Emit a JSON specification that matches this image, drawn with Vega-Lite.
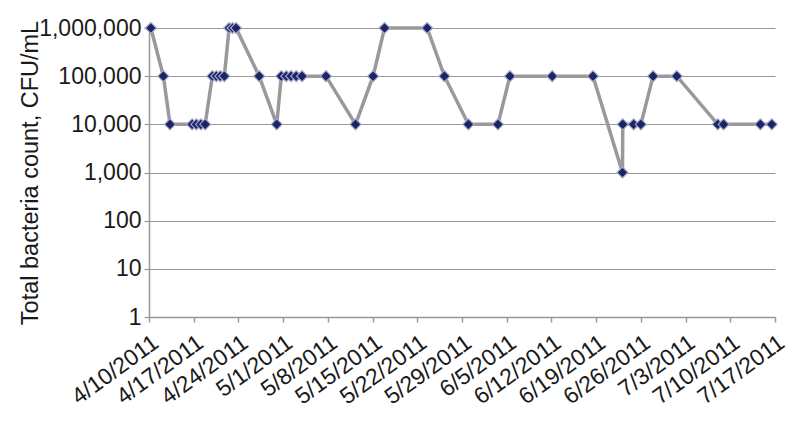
{
  "$schema": "https://vega.github.io/schema/vega-lite/v6.json",
  "width": 626,
  "height": 289,
  "autosize": "none",
  "padding": {"left": 149, "top": 28, "right": 25, "bottom": 107},
  "background": "white",
  "config": {
    "view": {"stroke": null},
    "font": "Liberation Sans",
    "axis": {"labelFont": "Liberation Sans", "titleFont": "Liberation Sans"}
  },
  "data": {
    "values": [
      {"date": "2011-04-10T07:00", "cfu": 1000000},
      {"date": "2011-04-12T06:00", "cfu": 100000},
      {"date": "2011-04-13T07:00", "cfu": 10000},
      {"date": "2011-04-16T18:00", "cfu": 10000},
      {"date": "2011-04-17T10:00", "cfu": 10000},
      {"date": "2011-04-18T03:00", "cfu": 10000},
      {"date": "2011-04-18T19:00", "cfu": 10000},
      {"date": "2011-04-19T22:00", "cfu": 100000},
      {"date": "2011-04-20T13:00", "cfu": 100000},
      {"date": "2011-04-21T04:00", "cfu": 100000},
      {"date": "2011-04-21T19:00", "cfu": 100000},
      {"date": "2011-04-22T13:00", "cfu": 1000000},
      {"date": "2011-04-23T02:00", "cfu": 1000000},
      {"date": "2011-04-23T15:00", "cfu": 1000000},
      {"date": "2011-04-27T06:00", "cfu": 100000},
      {"date": "2011-04-30T00:00", "cfu": 10000},
      {"date": "2011-04-30T17:00", "cfu": 100000},
      {"date": "2011-05-01T12:00", "cfu": 100000},
      {"date": "2011-05-02T06:00", "cfu": 100000},
      {"date": "2011-05-03T01:00", "cfu": 100000},
      {"date": "2011-05-03T23:00", "cfu": 100000},
      {"date": "2011-05-07T17:00", "cfu": 100000},
      {"date": "2011-05-12T08:00", "cfu": 10000},
      {"date": "2011-05-15T02:00", "cfu": 100000},
      {"date": "2011-05-16T21:00", "cfu": 1000000},
      {"date": "2011-05-23T13:00", "cfu": 1000000},
      {"date": "2011-05-26T06:00", "cfu": 100000},
      {"date": "2011-05-30T00:00", "cfu": 10000},
      {"date": "2011-06-03T15:00", "cfu": 10000},
      {"date": "2011-06-05T12:00", "cfu": 100000},
      {"date": "2011-06-12T03:00", "cfu": 100000},
      {"date": "2011-06-18T12:00", "cfu": 100000},
      {"date": "2011-06-23T03:00", "cfu": 1000},
      {"date": "2011-06-23T04:00", "cfu": 10000},
      {"date": "2011-06-24T21:00", "cfu": 10000},
      {"date": "2011-06-26T00:00", "cfu": 10000},
      {"date": "2011-06-27T22:00", "cfu": 100000},
      {"date": "2011-07-01T15:00", "cfu": 100000},
      {"date": "2011-07-08T01:00", "cfu": 10000},
      {"date": "2011-07-08T23:00", "cfu": 10000},
      {"date": "2011-07-14T17:00", "cfu": 10000},
      {"date": "2011-07-16T12:00", "cfu": 10000}
    ]
  },
  "encoding": {
    "x": {
      "field": "date",
      "type": "temporal",
      "scale": {"domain": ["2011-04-10T00:00", "2011-07-17T00:00"], "nice": false},
      "axis": {
        "title": null,
        "grid": false,
        "format": "%-m/%-d/%Y",
        "tickCount": {"interval": "week", "step": 1},
        "labelAngle": -36,
        "labelAlign": "right",
        "labelBaseline": "top",
        "labelFontSize": 23,
        "labelColor": "#1a1a1a",
        "labelPadding": 9,
        "labelOverlap": false,
        "labelFlush": false,
        "domainColor": "#999999",
        "domainWidth": 1.5,
        "tickColor": "#999999",
        "tickSize": 5,
        "tickWidth": 1.5
      }
    },
    "y": {
      "field": "cfu",
      "type": "quantitative",
      "scale": {"type": "log", "domain": [1, 1000000], "nice": false},
      "axis": {
        "title": "Total bacteria count, CFU/mL",
        "titleFontSize": 23.5,
        "titleFontWeight": "normal",
        "titleColor": "#1a1a1a",
        "titleX": -112,
        "titleBaseline": "alphabetic",
        "values": [1, 10, 100, 1000, 10000, 100000, 1000000],
        "format": ",",
        "labelFontSize": 23,
        "labelColor": "#1a1a1a",
        "labelPadding": 3,
        "grid": true,
        "gridColor": "#999999",
        "gridWidth": 1.2,
        "domainColor": "#999999",
        "domainWidth": 1.5,
        "tickColor": "#999999",
        "tickSize": 5,
        "tickWidth": 1.2
      }
    }
  },
  "layer": [
    {
      "mark": {"type": "line", "color": "#999999", "strokeWidth": 3.5}
    },
    {
      "mark": {
        "type": "point",
        "shape": "diamond",
        "filled": true,
        "size": 120,
        "fill": "#1c2466",
        "stroke": "#a3a8c8",
        "strokeWidth": 1.2,
        "opacity": 1
      }
    }
  ]
}
